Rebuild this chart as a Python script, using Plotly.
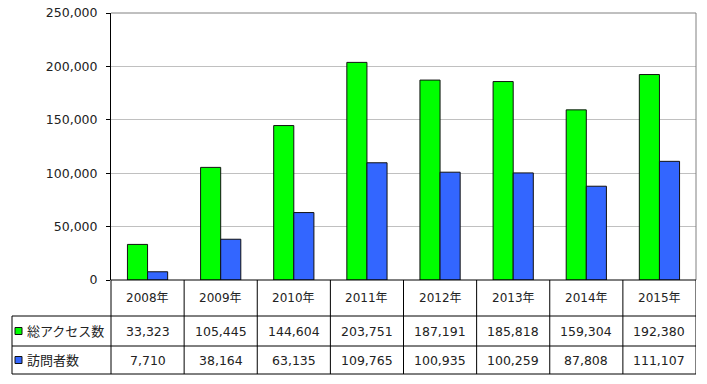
import plotly.graph_objects as go

years = ["2008年", "2009年", "2010年", "2011年", "2012年", "2013年", "2014年", "2015年"]
series_names = ["総アクセス数", "訪問者数"]
total_access = [33323, 105445, 144604, 203751, 187191, 185818, 159304, 192380]
visitors = [7710, 38164, 63135, 109765, 100935, 100259, 87808, 111107]
colors = ["#00FF00", "#3366FF"]
ytick_vals = [0, 50000, 100000, 150000, 200000, 250000]

W, H = 707, 384
L, R, T, B = 111, 696, 13, 280  # plot area in pixels
PH = B - T
PW = R - L


def py(p):  # pixel y -> paper y
    return (B - p) / PH


def px(p):  # pixel x -> paper x
    return (p - L) / PW


FONT = "DejaVu Sans, Noto Sans CJK JP, sans-serif"
TXT = "#222222"

fig = go.Figure()
for name, vals, c in zip(series_names, [total_access, visitors], colors):
    fig.add_trace(go.Bar(
        x=years, y=vals, name=name,
        marker=dict(color=c, line=dict(color="#111111", width=1)),
    ))

shapes = []
ann = []
line = dict(color="black", width=1)
# top/right border of plot
shapes.append(dict(type="line", xref="paper", yref="paper", x0=0, x1=1, y0=1, y1=1,
                   line=dict(color="#808080", width=1)))
shapes.append(dict(type="line", xref="paper", yref="paper", x0=1, x1=1, y0=0, y1=1,
                   line=dict(color="#808080", width=1)))
# table lines
row_y = [280, 316, 346, 374]
shapes.append(dict(type="line", xref="paper", yref="paper", x0=0, x1=1, y0=py(280), y1=py(280), line=line))
for yy in row_y[1:]:
    shapes.append(dict(type="line", xref="paper", yref="paper", x0=px(12), x1=1, y0=py(yy), y1=py(yy), line=line))
shapes.append(dict(type="line", xref="paper", yref="paper", x0=px(12), x1=px(12), y0=py(316), y1=py(374), line=line))
shapes.append(dict(type="line", xref="paper", yref="paper", x0=0, x1=0, y0=py(280), y1=py(374), line=line))
for i in range(len(years)):
    shapes.append(dict(type="line", xref="x", yref="paper", x0=i + 0.5, x1=i + 0.5,
                       y0=py(280), y1=py(374), line=line))

# header text
for i, yr in enumerate(years):
    ann.append(dict(x=i, y=py(298), xref="x", yref="paper", text=yr, showarrow=False,
                    xanchor="center", yanchor="middle",
                    font=dict(size=12, color=TXT, family=FONT)))
for vals, yc in zip([total_access, visitors], [331, 360]):
    for i, v in enumerate(vals):
        ann.append(dict(x=i, y=py(yc), xref="x", yref="paper", text=f"{v:,}", showarrow=False,
                        xanchor="center", yanchor="middle",
                        font=dict(size=12.5, color=TXT, family=FONT)))
# legend labels
for name, c, yc in zip(series_names, colors, [331, 360]):
    shapes.append(dict(type="rect", xref="paper", yref="paper", x0=px(15), x1=px(22),
                       y0=py(yc - 3.5), y1=py(yc + 3.5), fillcolor=c,
                       line=dict(color="#111111", width=1)))
    ann.append(dict(x=px(25), y=py(yc), xref="paper", yref="paper", text=name, showarrow=False,
                    xanchor="left", yanchor="middle",
                    font=dict(size=13, color=TXT, family=FONT)))

fig.update_layout(
    width=W, height=H,
    margin=dict(l=L, r=W - R, t=T, b=H - B, pad=0, autoexpand=False),
    paper_bgcolor="white", plot_bgcolor="white",
    barmode="group", bargap=0.45, bargroupgap=0,
    showlegend=False,
    shapes=shapes, annotations=ann,
    xaxis=dict(showticklabels=False, showgrid=False, zeroline=False, showline=False,
               ticks="", range=[-0.5, 7.5], fixedrange=True, automargin=False),
    yaxis=dict(range=[0, 250000], tickvals=ytick_vals, tickformat=",",
               showgrid=True, gridcolor="#c0c0c0", gridwidth=1, zeroline=False,
               showline=True, linecolor="black", linewidth=1, automargin=False,
               ticks="outside", ticklen=4, tickcolor="black", ticklabelstandoff=6,
               tickfont=dict(size=12.5, color=TXT, family=FONT), fixedrange=True),
    font=dict(family=FONT),
)
fig.write_html("out.html", config={"displayModeBar": False},
               post_script="document.body.style.margin='0';document.body.style.overflow='hidden';")
